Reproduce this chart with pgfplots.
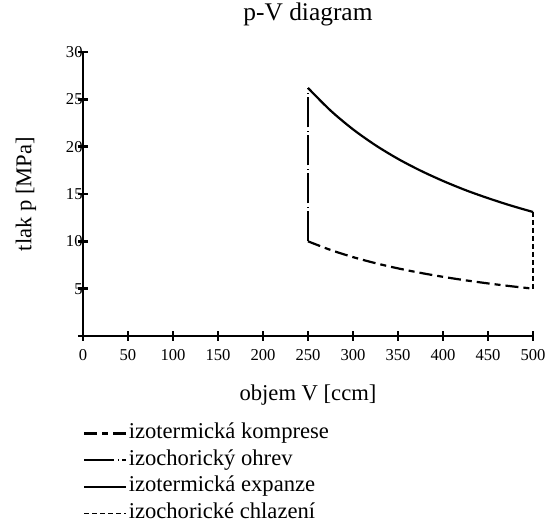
\documentclass[border=0pt]{standalone}
\usepackage{fontspec}
\setmainfont{Liberation Serif}
\usepackage{pgfplots}
\pgfplotsset{compat=1.18}
\begin{document}
\begin{tikzpicture}
\useasboundingbox (-41.5pt,-96pt) rectangle (235pt,168pt);
\begin{axis}[
  x=0.45pt, y=4.7333pt,
  xmin=0, xmax=500, ymin=0, ymax=30,
  axis lines*=left,
  axis line style={line width=1.2pt},
  xtick={0,50,...,500}, ytick={0,5,...,30},
  yticklabels={,5,10,15,20,25,30},
  tick align=center, major tick length=5pt,
  every tick/.style={black, line width=1.2pt},
  /pgf/number format/assume math mode=true,
  tick label style={font=\fontsize{8.3}{10}\selectfont},
  xticklabel style={anchor=north, yshift=-0.5pt},
  yticklabel style={anchor=east, inner sep=0pt, xshift=2.5pt},
  title={p-V diagram},
  title style={at={(axis description cs:0.5,1)}, anchor=base, yshift=9.5pt, font=\fontsize{12.7}{14}\selectfont},
  xlabel={objem V [ccm]},
  xlabel style={at={(axis description cs:0.5,-0.2077)}, anchor=center, font=\fontsize{11.3}{13}\selectfont},
  ylabel={tlak p [MPa]},
  ylabel style={at={(axis description cs:-0.1267,0.5)}, anchor=center, font=\fontsize{11.3}{13}\selectfont},
  legend image code/.code={\draw[#1] (0pt,0pt) -- (21pt,0pt);},
  legend cell align=left,
  legend style={at={(axis description cs:0,0)}, anchor=north west, yshift=-42.5pt, draw=none, fill=none,
    inner sep=0pt, row sep=1.1pt, font=\fontsize{11.3}{12}\selectfont,
    nodes={inner sep=0.6pt, text height=8pt, text depth=3pt}},
  clip=false,
]
\addplot[black, line width=1.1pt, dash pattern=on 6.5pt off 2.5pt on 3pt off 2.5pt, smooth] coordinates {
  (250,10.00) (275,9.091) (300,8.333) (325,7.692) (350,7.143) (375,6.667)
  (400,6.250) (425,5.882) (450,5.556) (475,5.263) (500,5.000)};
\addlegendentry{izotermická komprese}
\addplot[black, line width=1.1pt, dash pattern=on 15pt off 1.8pt on 0.4pt off 1.8pt] coordinates {
  (250,10.00) (250,26.2)};
\addlegendentry{izochorický ohrev}
\addplot[black, line width=1.1pt, smooth] coordinates {
  (250,26.20) (275,23.82) (300,21.83) (325,20.15) (350,18.71) (375,17.47)
  (400,16.38) (425,15.41) (450,14.56) (475,13.79) (500,13.10)};
\addlegendentry{izotermická expanze}
\addplot[black, line width=0.8pt, dash pattern=on 2.5pt off 1.5pt] coordinates {
  (500,13.10) (500,5.00)};
\addlegendentry{izochorické chlazení}
\end{axis}
\end{tikzpicture}
\end{document}
